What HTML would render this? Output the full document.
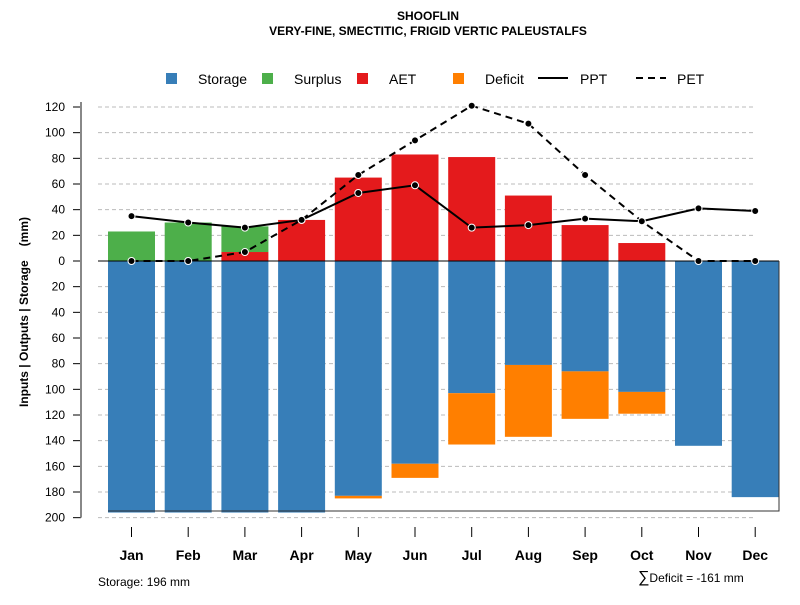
<!DOCTYPE html>
<html><head><meta charset="utf-8"><style>
body{margin:0;background:#fff;font-family:"Liberation Sans",sans-serif}
</style></head><body>
<svg id="c" width="800" height="600" xmlns="http://www.w3.org/2000/svg" font-family="Liberation Sans, sans-serif"></svg>
<script>
const months=["Jan","Feb","Mar","Apr","May","Jun","Jul","Aug","Sep","Oct","Nov","Dec"];
const storage=[196,196,196,196,183,158,103,81,86,102,144,184];
const deficit=[0,0,0,0,2,11,40,56,37,17,0,0];
const aet=[0,0,7,32,65,83,81,51,28,14,0,0];
const surplus=[23,30,20,0,0,0,0,0,0,0,0,0];
const ppt=[35,30,26,32,53,59,26,28,33,31,41,39];
const pet=[0,0,7,32,67,94,121,107,67,31,0,0];
const yTicks=[120,100,80,60,40,20,0,20,40,60,80,100,120,140,160,180,200];
const yVals=[120,100,80,60,40,20,0,-20,-40,-60,-80,-100,-120,-140,-160,-180,-200];
const svg=document.getElementById('c');const NS="http://www.w3.org/2000/svg";
function el(t,a,p){const e=document.createElementNS(NS,t);for(const k in a)e.setAttribute(k,a[k]);(p||svg).appendChild(e);return e;}
const y=v=>261-v*154/120;
const x=i=>131.5+i*56.7;
const bw=47;
yVals.forEach((v,i)=>{
 const g=el('line',{x1:98,x2:756,y1:y(v),y2:y(v),stroke:'#bbb','stroke-dasharray':'4,3'});
 
 el('line',{x1:73,x2:81,y1:y(v),y2:y(v),stroke:'#000'});
 const l=el('text',{x:65,y:y(v)+4,'text-anchor':'end','font-size':12});l.textContent=yTicks[i];
 
});
el('line',{x1:81,x2:81,y1:y(120)-5,y2:y(-200),stroke:'#888','stroke-width':2});
months.forEach((m,i)=>{
 const x0=x(i)-bw/2;
 let r=el('rect',{x:x0,y:y(0),width:bw,height:y(-storage[i])-y(0),fill:'#377eb8'});
 
 if(deficit[i]>0){r=el('rect',{x:x0,y:y(-storage[i]),width:bw,height:y(-storage[i]-deficit[i])-y(-storage[i]),fill:'#ff7f00'});
 }
 if(aet[i]>0){r=el('rect',{x:x0,y:y(aet[i]),width:bw,height:y(0)-y(aet[i]),fill:'#e41a1c'});
 }
 if(surplus[i]>0){r=el('rect',{x:x0,y:y(aet[i]+surplus[i]),width:bw,height:y(aet[i])-y(aet[i]+surplus[i]),fill:'#4daf4a'});
 }
 el('line',{x1:x(i),x2:x(i),y1:527,y2:537,stroke:'#000'});
 const t=el('text',{x:x(i),y:560,'text-anchor':'middle','font-size':14,'font-weight':'bold'});t.textContent=m;
 
});
el('line',{x1:98,x2:779,y1:261,y2:261,stroke:'#000'});
el('polyline',{points:`108,511 779,511 779,261`,fill:'none',stroke:'#333'});
const pp=el('polyline',{points:ppt.map((v,i)=>x(i)+','+y(v)).join(' '),fill:'none',stroke:'#000','stroke-width':2});

const pe=el('polyline',{points:pet.map((v,i)=>x(i)+','+y(v)).join(' '),fill:'none',stroke:'#000','stroke-width':2,'stroke-dasharray':'7,5'});

[ppt,pet].forEach(s=>s.forEach((v,i)=>{const c=el('circle',{cx:x(i),cy:y(v),r:3.5,fill:'#000',stroke:'#fff','stroke-width':1});
 }));
</script>
<svg width="800" height="600" style="position:absolute;left:0;top:0" font-family="Liberation Sans, sans-serif">
<text x="428" y="20" text-anchor="middle" font-size="12" font-weight="bold">SHOOFLIN</text>
<text x="428" y="35" text-anchor="middle" font-size="12" font-weight="bold">VERY-FINE, SMECTITIC, FRIGID VERTIC PALEUSTALFS</text>
<g font-size="14">
<rect x="166" y="73" width="11" height="11" fill="#377eb8"/><text x="198" y="84">Storage</text>
<rect x="262" y="73" width="11" height="11" fill="#4daf4a"/><text x="294" y="84">Surplus</text>
<rect x="357" y="73" width="11" height="11" fill="#e41a1c"/><text x="389" y="84">AET</text>
<rect x="453" y="73" width="11" height="11" fill="#ff7f00"/><text x="485" y="84">Deficit</text>
<line x1="538" x2="568" y1="78" y2="78" stroke="#000" stroke-width="2"/><text x="580" y="84">PPT</text>
<line x1="636" x2="666" y1="78" y2="78" stroke="#000" stroke-width="2" stroke-dasharray="7,5"/><text x="677" y="84">PET</text>
</g>
<text transform="translate(28,312) rotate(-90)" text-anchor="middle" font-size="12" font-weight="bold">Inputs | Outputs | Storage<tspan dx="14">(mm)</tspan></text>
<text x="98" y="586" font-size="12">Storage: 196 mm</text>
<text x="638" y="582" font-size="12"><tspan font-size="16">∑</tspan>Deficit = -161 mm</text>
</svg>
</body></html>
